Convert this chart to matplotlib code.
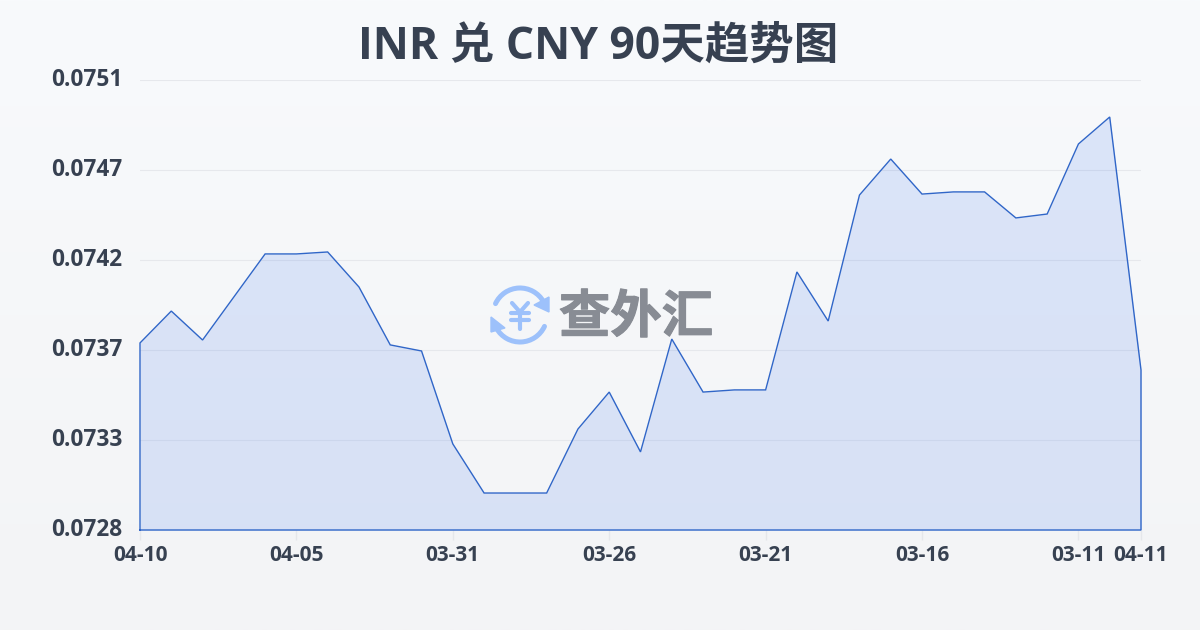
import numpy as np
import matplotlib
matplotlib.use('Agg')
import matplotlib.pyplot as plt
import matplotlib.patheffects as pe
from matplotlib.patches import Arc, Polygon
from matplotlib.transforms import ScaledTranslation

LATIN = ['Open Sans', 'Noto Sans CJK SC', 'DejaVu Sans']
plt.rcParams['font.family'] = LATIN

title = 'INR 兑 CNY 90天趋势图'
rates = [0.073756, 0.073919, 0.073771, 0.073991, 0.074211, 0.074211, 0.074221,
         0.074042, 0.073746, 0.073715, 0.073240, 0.072989, 0.072989, 0.072989,
         0.073316, 0.073505, 0.073199, 0.073776, 0.073505, 0.073516, 0.073516,
         0.074119, 0.073868, 0.074512, 0.074696, 0.074517, 0.074528, 0.074528,
         0.074395, 0.074415, 0.074773, 0.074911, 0.073618]
x_tick_pos = [0, 5, 10, 15, 20, 25, 30, 32]
x_tick_labels = ['04-10', '04-05', '03-31', '03-26', '03-21', '03-16', '03-11', '04-11']
y_ticks = [0.0751, 0.07464, 0.07418, 0.07372, 0.07326, 0.0728]
y_tick_labels = ['0.0751', '0.0747', '0.0742', '0.0737', '0.0733', '0.0728']

W, H = 1200, 630
TEXT = '#374151'
LINE = '#3066c8'
GRID = '#e5e7eb'

fig = plt.figure(figsize=(W / 100, H / 100), dpi=100)

# background gradient
bg = fig.add_axes([0, 0, 1, 1], zorder=0)
grad = np.linspace(0, 1, 256).reshape(-1, 1, 1)
top = np.array([0xf8, 0xfa, 0xfc]) / 255
bottom = np.array([0xf3, 0xf4, 0xf6]) / 255
bg.imshow(top + (bottom - top) * grad, aspect='auto', extent=[0, 1, 0, 1])
bg.axis('off')

# main chart
ax = fig.add_axes([140 / W, 1 - 530 / H, 1001 / W, 450 / H], zorder=1)
ax.patch.set_alpha(0)
x = np.arange(len(rates))
ax.fill_between(x, rates, 0.0728, color='#3b74f0', alpha=0.15, linewidth=0, zorder=2)
ax.plot(np.r_[x[0], x, x[-1], x[0]], np.r_[0.0728, rates, 0.0728, 0.0728],
        color=LINE, linewidth=1.0, solid_joinstyle='miter', clip_on=False, zorder=3)

ax.set_xlim(0, len(rates) - 1)
ax.set_ylim(0.0728, 0.0751)
ax.set_yticks(y_ticks)
ax.set_yticklabels(y_tick_labels, fontsize=16.3, fontweight='bold', color=TEXT)
ax.set_xticks(x_tick_pos)
ax.set_xticklabels(x_tick_labels, fontsize=15, fontweight='bold', color=TEXT)
ax.tick_params(axis='y', length=0, pad=12.5)
ax.tick_params(axis='x', length=7, width=1, color=GRID, pad=3.5)
shift_up = ScaledTranslation(0, 2 / 72, fig.dpi_scale_trans)
for lab in ax.get_yticklabels():
    lab.set_transform(lab.get_transform() + shift_up)
ax.grid(axis='y', color=GRID, linewidth=0.8, alpha=0.9, zorder=1)
ax.set_axisbelow(True)
for s in ax.spines.values():
    s.set_visible(False)

fig.text(598 / W, 1 - 47 / H, title, ha='center', va='center', fontsize=32,
         fontweight='bold', color=TEXT)

# watermark logo, in pixel coordinates
logo = fig.add_axes([0, 0, 1, 1], zorder=3)
BLUE = '#9dc1fb'
logo.add_patch(Arc((520, 315), 54, 54, theta1=205, theta2=330, color=BLUE, lw=3.6, capstyle='round'))
logo.add_patch(Arc((520, 315), 54, 54, theta1=25, theta2=150, color=BLUE, lw=3.6, capstyle='round'))
logo.add_patch(Polygon([(549, 297), (549, 312), (534, 305)], closed=True, fc=BLUE, ec=BLUE, lw=1))
logo.add_patch(Polygon([(491, 317), (491, 332), (505, 328)], closed=True, fc=BLUE, ec=BLUE, lw=1))
for seg in [((512, 303), (520, 312)), ((528, 303), (520, 312)), ((520, 312), (520, 329)),
            ((511, 313), (529, 313)), ((511, 320), (529, 320))]:
    logo.plot(*zip(*seg), color=BLUE, lw=3, solid_capstyle='round')
logo.set_xlim(0, W)
logo.set_ylim(H, 0)
logo.axis('off')
logo.text(636, 317, '查外汇', ha='center', va='center', fontsize=37, fontweight='bold',
          color='#888c94', family=['Noto Sans CJK SC', 'DejaVu Sans'],
          path_effects=[pe.withStroke(linewidth=0.8, foreground='#888c94')])

fig.savefig('out.png', dpi=100)
